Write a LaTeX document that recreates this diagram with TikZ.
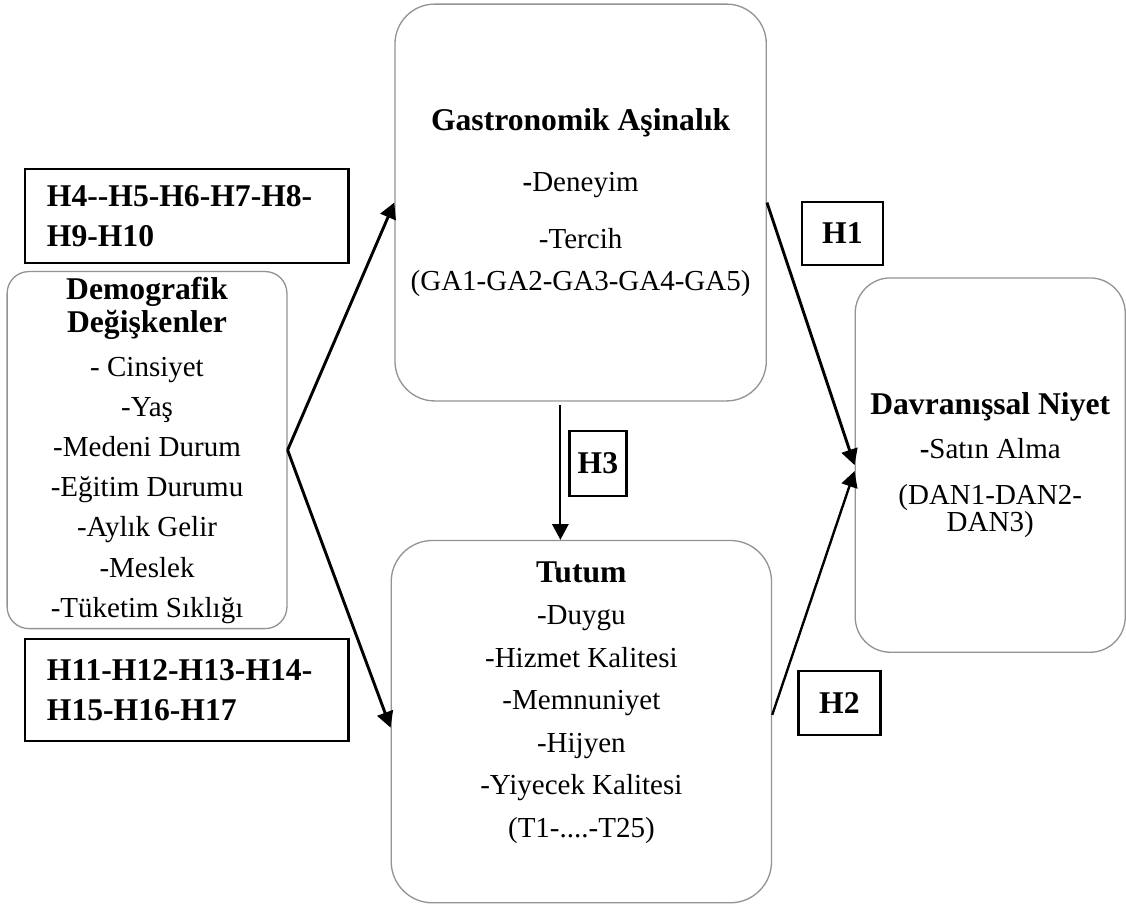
\documentclass[tikz,border=0pt]{standalone}
\usepackage{fontspec}
\setmainfont{Liberation Serif}
\usepackage{tikz}
\usetikzlibrary{arrows.meta,calc}
\tikzset{
  patharrow/.style={-{Triangle[length=6pt,width=6.2pt]}, line width=1.1pt},
  thinarrow/.style={-{Triangle[length=6pt,width=6.2pt]}, line width=0.8pt},
  varbox/.style={draw=gray!85, line width=0.5pt, align=center, inner sep=2pt, font=\fontsize{11}{16}\selectfont},
  hypbox/.style={draw, line width=0.9pt, inner sep=0pt, font=\fontsize{12}{15.2}\bfseries\selectfont}
}
\newcommand{\vartitle}[1]{{\fontsize{12}{15}\selectfont\bfseries #1}}

\begin{document}
\begin{tikzpicture}
  \useasboundingbox (0,0) rectangle (15.01,12.05);
  % variables
  \node[varbox, rounded corners=0.29cm, minimum width=3.73cm, minimum height=4.72cm, font=\fontsize{11}{15.2}\selectfont] (demog) at (1.96,6.05) {\vartitle{Demografik}\\[-2.5pt]\vartitle{Değişkenler}\\[1.5pt]- Cinsiyet\\-Yaş\\-Medeni Durum\\-Eğitim Durumu\\-Aylık Gelir\\-Meslek\\-Tüketim Sıklığı};
  \node[varbox, rounded corners=0.53cm, minimum width=4.95cm, minimum height=5.29cm] (gastro) at (7.74,9.35) {\vartitle{Gastronomik Aşinalık}\\[7pt]\textbf{-}Deneyim\\[5.6pt]-Tercih\\(GA1-GA2-GA3-GA4-GA5)};
  \node[varbox, rounded corners=0.55cm, minimum width=5.07cm, minimum height=4.83cm, font=\fontsize{11}{16.1}\selectfont] (tutum) at (7.75,2.43) {\vartitle{Tutum}\\-Duygu\\-Hizmet Kalitesi\\-Memnuniyet\\-Hijyen\\-Yiyecek Kalitesi\\(T1-....-T25)\\[0.7pt]\mbox{}};
  \node[varbox, rounded corners=0.47cm, minimum width=3.6cm, minimum height=4.99cm] (davr) at (13.2,5.85) {\vartitle{Davranışsal Niyet}\\[0.7pt]\textbf{-}Satın Alma\\[1.4pt](DAN1-DAN2-\\[-5.8pt]DAN3)};
  % hypotheses
  \node[hypbox, minimum width=4.31cm, minimum height=1.25cm, text width=3.73cm, align=left] (hfour) at (2.49,9.17) {H4-{}-H5-H6-H7-H8-\\H9-H10};
  \node[hypbox, minimum width=4.31cm, minimum height=1.36cm, text width=3.73cm, align=left] (heleven) at (2.49,2.85) {H11-H12-H13-H14-\\H15-H16-H17};
  \node[hypbox, minimum width=1.08cm, minimum height=0.84cm] (hone) at (11.23,8.94) {H1};
  \node[hypbox, minimum width=1.09cm, minimum height=0.85cm] (htwo) at (11.19,2.68) {H2};
  \node[hypbox, minimum width=0.76cm, minimum height=0.87cm] (hthree) at (7.97,5.87) {H3};
  % paths
  \draw[patharrow] (demog.east) -- (gastro.west);
  \draw[patharrow] (demog.east) -- ([yshift=-0.08cm]tutum.west);
  \draw[thinarrow] ([xshift=-0.27cm,yshift=-0.05cm]gastro.south) -- ([xshift=-0.28cm]tutum.north);
  \draw[patharrow] (gastro.east) -- (davr.west);
  \draw[patharrow, line width=0.9pt] ([yshift=0.09cm]tutum.east) -- ([yshift=-0.08cm]davr.west);
\end{tikzpicture}
\end{document}
